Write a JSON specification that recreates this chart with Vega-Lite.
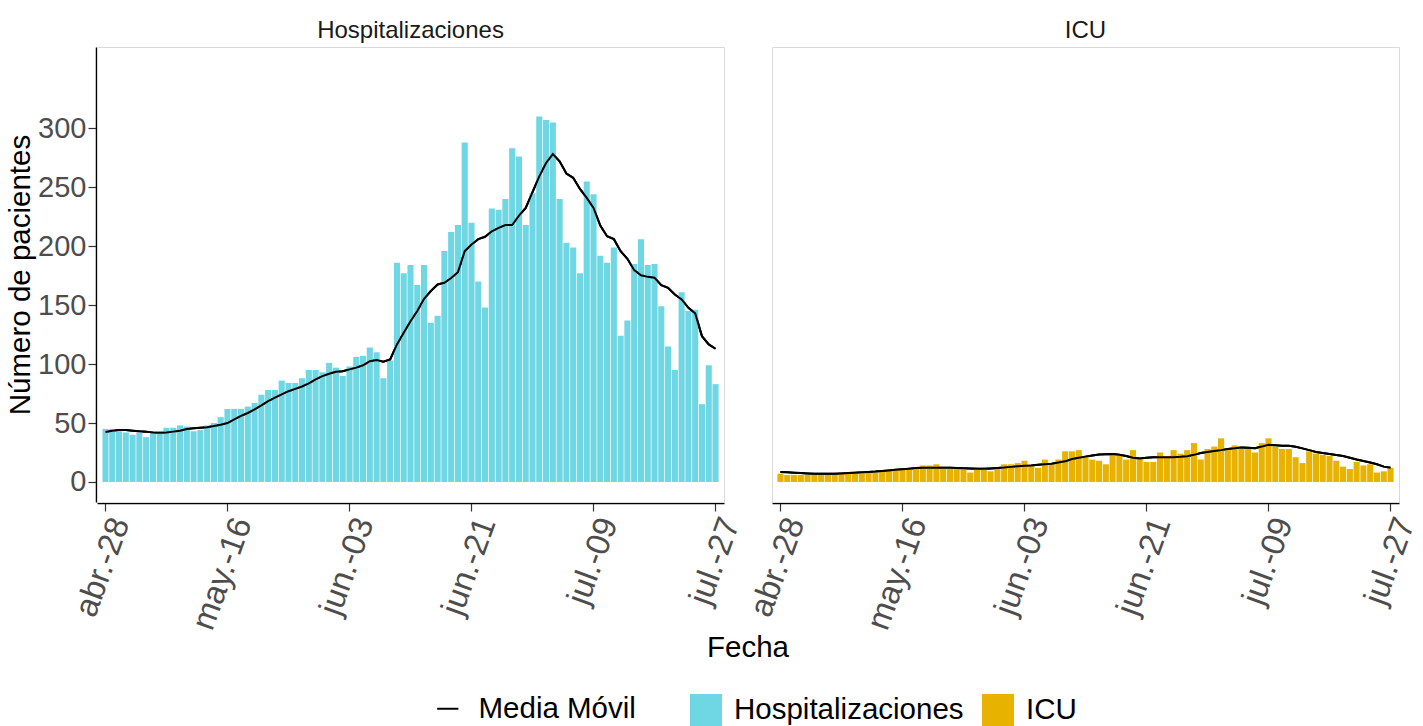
{
 "$schema": "https://vega.github.io/schema/vega-lite/v6.json",
 "padding": {"left": 5, "top": 19, "right": 20, "bottom": 0},
 "background": "white",
 "data": {"values": [
  {"fecha":"abr.-28","tipo":"Hospitalizaciones","pacientes":45,"media":42.4},
  {"fecha":"abr.-29","tipo":"Hospitalizaciones","pacientes":45,"media":43.5},
  {"fecha":"abr.-30","tipo":"Hospitalizaciones","pacientes":43,"media":44},
  {"fecha":"may.-01","tipo":"Hospitalizaciones","pacientes":42,"media":44},
  {"fecha":"may.-02","tipo":"Hospitalizaciones","pacientes":40,"media":43.5},
  {"fecha":"may.-03","tipo":"Hospitalizaciones","pacientes":42,"media":43},
  {"fecha":"may.-04","tipo":"Hospitalizaciones","pacientes":38,"media":42.7},
  {"fecha":"may.-05","tipo":"Hospitalizaciones","pacientes":43,"media":42},
  {"fecha":"may.-06","tipo":"Hospitalizaciones","pacientes":42,"media":41.8},
  {"fecha":"may.-07","tipo":"Hospitalizaciones","pacientes":46,"media":42},
  {"fecha":"may.-08","tipo":"Hospitalizaciones","pacientes":46,"media":42.7},
  {"fecha":"may.-09","tipo":"Hospitalizaciones","pacientes":48,"media":43.5},
  {"fecha":"may.-10","tipo":"Hospitalizaciones","pacientes":47,"media":45},
  {"fecha":"may.-11","tipo":"Hospitalizaciones","pacientes":43,"media":45.5},
  {"fecha":"may.-12","tipo":"Hospitalizaciones","pacientes":44,"media":46},
  {"fecha":"may.-13","tipo":"Hospitalizaciones","pacientes":48,"media":46.5},
  {"fecha":"may.-14","tipo":"Hospitalizaciones","pacientes":50,"media":47.5},
  {"fecha":"may.-15","tipo":"Hospitalizaciones","pacientes":55,"media":48.5},
  {"fecha":"may.-16","tipo":"Hospitalizaciones","pacientes":62,"media":50},
  {"fecha":"may.-17","tipo":"Hospitalizaciones","pacientes":62,"media":53},
  {"fecha":"may.-18","tipo":"Hospitalizaciones","pacientes":62,"media":56},
  {"fecha":"may.-19","tipo":"Hospitalizaciones","pacientes":64,"media":58.5},
  {"fecha":"may.-20","tipo":"Hospitalizaciones","pacientes":67,"media":61.6},
  {"fecha":"may.-21","tipo":"Hospitalizaciones","pacientes":74,"media":65},
  {"fecha":"may.-22","tipo":"Hospitalizaciones","pacientes":78,"media":68.6},
  {"fecha":"may.-23","tipo":"Hospitalizaciones","pacientes":78,"media":71.5},
  {"fecha":"may.-24","tipo":"Hospitalizaciones","pacientes":86,"media":74.3},
  {"fecha":"may.-25","tipo":"Hospitalizaciones","pacientes":84,"media":77},
  {"fecha":"may.-26","tipo":"Hospitalizaciones","pacientes":84,"media":79},
  {"fecha":"may.-27","tipo":"Hospitalizaciones","pacientes":88,"media":81},
  {"fecha":"may.-28","tipo":"Hospitalizaciones","pacientes":95,"media":83.6},
  {"fecha":"may.-29","tipo":"Hospitalizaciones","pacientes":95,"media":87},
  {"fecha":"may.-30","tipo":"Hospitalizaciones","pacientes":93,"media":89.8},
  {"fecha":"may.-31","tipo":"Hospitalizaciones","pacientes":101,"media":91.8},
  {"fecha":"jun.-01","tipo":"Hospitalizaciones","pacientes":97,"media":93.5},
  {"fecha":"jun.-02","tipo":"Hospitalizaciones","pacientes":90,"media":94},
  {"fecha":"jun.-03","tipo":"Hospitalizaciones","pacientes":98,"media":95.5},
  {"fecha":"jun.-04","tipo":"Hospitalizaciones","pacientes":106,"media":97},
  {"fecha":"jun.-05","tipo":"Hospitalizaciones","pacientes":107,"media":99},
  {"fecha":"jun.-06","tipo":"Hospitalizaciones","pacientes":114,"media":102.5},
  {"fecha":"jun.-07","tipo":"Hospitalizaciones","pacientes":110,"media":103.4},
  {"fecha":"jun.-08","tipo":"Hospitalizaciones","pacientes":88,"media":102},
  {"fecha":"jun.-09","tipo":"Hospitalizaciones","pacientes":103,"media":104},
  {"fecha":"jun.-10","tipo":"Hospitalizaciones","pacientes":186,"media":116.7},
  {"fecha":"jun.-11","tipo":"Hospitalizaciones","pacientes":177,"media":126.6},
  {"fecha":"jun.-12","tipo":"Hospitalizaciones","pacientes":184,"media":136.4},
  {"fecha":"jun.-13","tipo":"Hospitalizaciones","pacientes":167,"media":145},
  {"fecha":"jun.-14","tipo":"Hospitalizaciones","pacientes":184,"media":155.4},
  {"fecha":"jun.-15","tipo":"Hospitalizaciones","pacientes":135,"media":162},
  {"fecha":"jun.-16","tipo":"Hospitalizaciones","pacientes":141,"media":167.5},
  {"fecha":"jun.-17","tipo":"Hospitalizaciones","pacientes":196,"media":169},
  {"fecha":"jun.-18","tipo":"Hospitalizaciones","pacientes":212,"media":173},
  {"fecha":"jun.-19","tipo":"Hospitalizaciones","pacientes":218,"media":178},
  {"fecha":"jun.-20","tipo":"Hospitalizaciones","pacientes":288,"media":195.8},
  {"fecha":"jun.-21","tipo":"Hospitalizaciones","pacientes":220,"media":201.4},
  {"fecha":"jun.-22","tipo":"Hospitalizaciones","pacientes":170,"media":206},
  {"fecha":"jun.-23","tipo":"Hospitalizaciones","pacientes":148,"media":208},
  {"fecha":"jun.-24","tipo":"Hospitalizaciones","pacientes":232,"media":212.7},
  {"fecha":"jun.-25","tipo":"Hospitalizaciones","pacientes":231,"media":215.5},
  {"fecha":"jun.-26","tipo":"Hospitalizaciones","pacientes":240,"media":218},
  {"fecha":"jun.-27","tipo":"Hospitalizaciones","pacientes":283,"media":218},
  {"fecha":"jun.-28","tipo":"Hospitalizaciones","pacientes":276,"media":226},
  {"fecha":"jun.-29","tipo":"Hospitalizaciones","pacientes":218,"media":232.5},
  {"fecha":"jun.-30","tipo":"Hospitalizaciones","pacientes":245,"media":245.8},
  {"fecha":"jul.-01","tipo":"Hospitalizaciones","pacientes":310,"media":259.3},
  {"fecha":"jul.-02","tipo":"Hospitalizaciones","pacientes":307,"media":270.6},
  {"fecha":"jul.-03","tipo":"Hospitalizaciones","pacientes":305,"media":278.2},
  {"fecha":"jul.-04","tipo":"Hospitalizaciones","pacientes":240,"media":272},
  {"fecha":"jul.-05","tipo":"Hospitalizaciones","pacientes":203,"media":261.6},
  {"fecha":"jul.-06","tipo":"Hospitalizaciones","pacientes":199,"media":258},
  {"fecha":"jul.-07","tipo":"Hospitalizaciones","pacientes":177,"media":248.6},
  {"fecha":"jul.-08","tipo":"Hospitalizaciones","pacientes":255,"media":241},
  {"fecha":"jul.-09","tipo":"Hospitalizaciones","pacientes":244,"media":232.5},
  {"fecha":"jul.-10","tipo":"Hospitalizaciones","pacientes":192,"media":217.5},
  {"fecha":"jul.-11","tipo":"Hospitalizaciones","pacientes":186,"media":208.5},
  {"fecha":"jul.-12","tipo":"Hospitalizaciones","pacientes":199,"media":206},
  {"fecha":"jul.-13","tipo":"Hospitalizaciones","pacientes":124,"media":195.8},
  {"fecha":"jul.-14","tipo":"Hospitalizaciones","pacientes":137,"media":189.3},
  {"fecha":"jul.-15","tipo":"Hospitalizaciones","pacientes":185,"media":179.7},
  {"fecha":"jul.-16","tipo":"Hospitalizaciones","pacientes":206,"media":175.4},
  {"fecha":"jul.-17","tipo":"Hospitalizaciones","pacientes":184,"media":174},
  {"fecha":"jul.-18","tipo":"Hospitalizaciones","pacientes":185,"media":173.2},
  {"fecha":"jul.-19","tipo":"Hospitalizaciones","pacientes":149,"media":167},
  {"fecha":"jul.-20","tipo":"Hospitalizaciones","pacientes":115,"media":164.7},
  {"fecha":"jul.-21","tipo":"Hospitalizaciones","pacientes":95,"media":159},
  {"fecha":"jul.-22","tipo":"Hospitalizaciones","pacientes":161,"media":154.8},
  {"fecha":"jul.-23","tipo":"Hospitalizaciones","pacientes":145,"media":147.7},
  {"fecha":"jul.-24","tipo":"Hospitalizaciones","pacientes":146,"media":143},
  {"fecha":"jul.-25","tipo":"Hospitalizaciones","pacientes":66,"media":123.7},
  {"fecha":"jul.-26","tipo":"Hospitalizaciones","pacientes":99,"media":116.7},
  {"fecha":"jul.-27","tipo":"Hospitalizaciones","pacientes":83,"media":113},
  {"fecha":"abr.-28","tipo":"ICU","pacientes":7,"media":8.5},
  {"fecha":"abr.-29","tipo":"ICU","pacientes":6,"media":8.2},
  {"fecha":"abr.-30","tipo":"ICU","pacientes":6,"media":7.8},
  {"fecha":"may.-01","tipo":"ICU","pacientes":6,"media":7.5},
  {"fecha":"may.-02","tipo":"ICU","pacientes":6,"media":7.2},
  {"fecha":"may.-03","tipo":"ICU","pacientes":6,"media":7},
  {"fecha":"may.-04","tipo":"ICU","pacientes":6,"media":7},
  {"fecha":"may.-05","tipo":"ICU","pacientes":6,"media":7},
  {"fecha":"may.-06","tipo":"ICU","pacientes":6,"media":7},
  {"fecha":"may.-07","tipo":"ICU","pacientes":7,"media":7.2},
  {"fecha":"may.-08","tipo":"ICU","pacientes":8,"media":7.5},
  {"fecha":"may.-09","tipo":"ICU","pacientes":8,"media":7.8},
  {"fecha":"may.-10","tipo":"ICU","pacientes":9,"media":8.2},
  {"fecha":"may.-11","tipo":"ICU","pacientes":8,"media":8.5},
  {"fecha":"may.-12","tipo":"ICU","pacientes":8,"media":8.8},
  {"fecha":"may.-13","tipo":"ICU","pacientes":9,"media":9.3},
  {"fecha":"may.-14","tipo":"ICU","pacientes":10,"media":9.8},
  {"fecha":"may.-15","tipo":"ICU","pacientes":11,"media":10.3},
  {"fecha":"may.-16","tipo":"ICU","pacientes":11,"media":10.8},
  {"fecha":"may.-17","tipo":"ICU","pacientes":11,"media":11.3},
  {"fecha":"may.-18","tipo":"ICU","pacientes":12,"media":11.8},
  {"fecha":"may.-19","tipo":"ICU","pacientes":14,"media":12},
  {"fecha":"may.-20","tipo":"ICU","pacientes":14,"media":12},
  {"fecha":"may.-21","tipo":"ICU","pacientes":15,"media":12},
  {"fecha":"may.-22","tipo":"ICU","pacientes":12,"media":12},
  {"fecha":"may.-23","tipo":"ICU","pacientes":12,"media":12},
  {"fecha":"may.-24","tipo":"ICU","pacientes":12,"media":11.8},
  {"fecha":"may.-25","tipo":"ICU","pacientes":12,"media":11.6},
  {"fecha":"may.-26","tipo":"ICU","pacientes":8,"media":11.4},
  {"fecha":"may.-27","tipo":"ICU","pacientes":11,"media":11.3},
  {"fecha":"may.-28","tipo":"ICU","pacientes":11,"media":11.3},
  {"fecha":"may.-29","tipo":"ICU","pacientes":9,"media":11.5},
  {"fecha":"may.-30","tipo":"ICU","pacientes":11,"media":11.8},
  {"fecha":"may.-31","tipo":"ICU","pacientes":15,"media":12.2},
  {"fecha":"jun.-01","tipo":"ICU","pacientes":15,"media":12.8},
  {"fecha":"jun.-02","tipo":"ICU","pacientes":16,"media":13.3},
  {"fecha":"jun.-03","tipo":"ICU","pacientes":18,"media":13.8},
  {"fecha":"jun.-04","tipo":"ICU","pacientes":14,"media":14},
  {"fecha":"jun.-05","tipo":"ICU","pacientes":12,"media":14.5},
  {"fecha":"jun.-06","tipo":"ICU","pacientes":19,"media":15},
  {"fecha":"jun.-07","tipo":"ICU","pacientes":15,"media":15.5},
  {"fecha":"jun.-08","tipo":"ICU","pacientes":19,"media":16.5},
  {"fecha":"jun.-09","tipo":"ICU","pacientes":26,"media":17.5},
  {"fecha":"jun.-10","tipo":"ICU","pacientes":26,"media":19.5},
  {"fecha":"jun.-11","tipo":"ICU","pacientes":27,"media":20.5},
  {"fecha":"jun.-12","tipo":"ICU","pacientes":22,"media":21.5},
  {"fecha":"jun.-13","tipo":"ICU","pacientes":19,"media":22.5},
  {"fecha":"jun.-14","tipo":"ICU","pacientes":18,"media":23.2},
  {"fecha":"jun.-15","tipo":"ICU","pacientes":15,"media":23.5},
  {"fecha":"jun.-16","tipo":"ICU","pacientes":23,"media":23.7},
  {"fecha":"jun.-17","tipo":"ICU","pacientes":23,"media":23},
  {"fecha":"jun.-18","tipo":"ICU","pacientes":19,"media":22},
  {"fecha":"jun.-19","tipo":"ICU","pacientes":27,"media":20.5},
  {"fecha":"jun.-20","tipo":"ICU","pacientes":20,"media":20},
  {"fecha":"jun.-21","tipo":"ICU","pacientes":17,"media":20.5},
  {"fecha":"jun.-22","tipo":"ICU","pacientes":17,"media":21},
  {"fecha":"jun.-23","tipo":"ICU","pacientes":25,"media":21},
  {"fecha":"jun.-24","tipo":"ICU","pacientes":22,"media":21},
  {"fecha":"jun.-25","tipo":"ICU","pacientes":27,"media":21},
  {"fecha":"jun.-26","tipo":"ICU","pacientes":24,"media":21.3},
  {"fecha":"jun.-27","tipo":"ICU","pacientes":27,"media":21.8},
  {"fecha":"jun.-28","tipo":"ICU","pacientes":33,"media":23},
  {"fecha":"jun.-29","tipo":"ICU","pacientes":19,"media":24.5},
  {"fecha":"jun.-30","tipo":"ICU","pacientes":28,"media":25.5},
  {"fecha":"jul.-01","tipo":"ICU","pacientes":30,"media":26.3},
  {"fecha":"jul.-02","tipo":"ICU","pacientes":37,"media":27},
  {"fecha":"jul.-03","tipo":"ICU","pacientes":27,"media":28},
  {"fecha":"jul.-04","tipo":"ICU","pacientes":31,"media":28.5},
  {"fecha":"jul.-05","tipo":"ICU","pacientes":29,"media":29.2},
  {"fecha":"jul.-06","tipo":"ICU","pacientes":28,"media":29},
  {"fecha":"jul.-07","tipo":"ICU","pacientes":25,"media":28.7},
  {"fecha":"jul.-08","tipo":"ICU","pacientes":33,"media":30},
  {"fecha":"jul.-09","tipo":"ICU","pacientes":37,"media":31.5},
  {"fecha":"jul.-10","tipo":"ICU","pacientes":30,"media":31.2},
  {"fecha":"jul.-11","tipo":"ICU","pacientes":28,"media":30.8},
  {"fecha":"jul.-12","tipo":"ICU","pacientes":28,"media":30.8},
  {"fecha":"jul.-13","tipo":"ICU","pacientes":21,"media":29.8},
  {"fecha":"jul.-14","tipo":"ICU","pacientes":16,"media":28.5},
  {"fecha":"jul.-15","tipo":"ICU","pacientes":26,"media":27},
  {"fecha":"jul.-16","tipo":"ICU","pacientes":24,"media":25.5},
  {"fecha":"jul.-17","tipo":"ICU","pacientes":23,"media":24.5},
  {"fecha":"jul.-18","tipo":"ICU","pacientes":22,"media":23.8},
  {"fecha":"jul.-19","tipo":"ICU","pacientes":18,"media":22.8},
  {"fecha":"jul.-20","tipo":"ICU","pacientes":13,"media":22},
  {"fecha":"jul.-21","tipo":"ICU","pacientes":11,"media":20.5},
  {"fecha":"jul.-22","tipo":"ICU","pacientes":17,"media":19},
  {"fecha":"jul.-23","tipo":"ICU","pacientes":14,"media":17.8},
  {"fecha":"jul.-24","tipo":"ICU","pacientes":15,"media":16.5},
  {"fecha":"jul.-25","tipo":"ICU","pacientes":8,"media":15},
  {"fecha":"jul.-26","tipo":"ICU","pacientes":9,"media":13},
  {"fecha":"jul.-27","tipo":"ICU","pacientes":12,"media":12}
 ]},
 "facet": {
  "column": {
   "field": "tipo", "type": "nominal", "sort": ["Hospitalizaciones", "ICU"],
   "header": {
    "title": "Fecha", "titleOrient": "bottom", "titleFont": "Liberation Sans",
    "titleFontSize": 29.5, "titleFontWeight": "normal", "titleColor": "black", "titlePadding": -11,
    "labelOrient": "top", "labelFont": "Liberation Sans", "labelFontSize": 24,
    "labelColor": "#1a1a1a", "labelPadding": 3
   }
  }
 },
 "spacing": {"column": 46},
 "spec": {
  "width": 627,
  "height": 455,
  "layer": [
   {
    "mark": {"type": "line", "strokeWidth": 2},
    "encoding": {
     "x": {"field": "fecha", "type": "ordinal", "sort": null},
     "y": {"field": "media", "type": "quantitative"},
     "color": {"datum": "Media Móvil", "scale": {"range": ["black"]},
       "legend": {"title": null, "symbolSize": 450, "symbolStrokeWidth": 2, "labelOffset": 16,
         "orient": "none", "legendX": 336, "legendY": 647}}
    }
   },
   {
    "mark": {"type": "bar"},
    "encoding": {
     "x": {"field": "fecha", "type": "ordinal", "sort": null,
       "scale": {"paddingInner": 0.1, "paddingOuter": 0.8},
       "axis": {"title": null, "values": ["abr.-28","may.-16","jun.-03","jun.-21","jul.-09","jul.-27"],
         "labelAngle": -70, "labelBaseline": "top", "labelFontSize": 33, "labelColor": "#4d4d4d", "labelOverlap": false,
         "labelDy": 9,
         "tickSize": 8, "tickColor": "#333333", "tickWidth": 1.2, "domainColor": "black", "domainWidth": 1.5,
         "labelPadding": 2, "grid": false}},
     "y": {"field": "pacientes", "type": "quantitative",
       "scale": {"domain": [-17, 369], "nice": false, "zero": false},
       "axis": {"title": "Número de pacientes", "values": [0, 50, 100, 150, 200, 250, 300],
         "titleFontSize": 29.5, "titleFontWeight": "normal", "titleColor": "black", "titlePadding": 2,
         "labelFontSize": 29, "labelColor": "#4d4d4d", "tickSize": 8, "tickColor": "#333333", "tickWidth": 1.2,
         "domainColor": "black", "domainWidth": 1.5, "labelPadding": 2, "grid": false}},
     "y2": {"datum": 0},
     "fill": {"field": "tipo", "type": "nominal",
       "scale": {"domain": ["Hospitalizaciones", "ICU"], "range": ["#6fd7e3", "#e7b200"]},
       "legend": {"title": null, "symbolType": "square", "symbolSize": 1024, "symbolStrokeWidth": 0, "labelOffset": 12,
         "orient": "none", "legendX": 593, "legendY": 647}}
    }
   },
   {
    "mark": {"type": "line", "strokeWidth": 2},
    "encoding": {
     "x": {"field": "fecha", "type": "ordinal", "sort": null},
     "y": {"field": "media", "type": "quantitative"},
     "color": {"datum": "Media Móvil"}
    }
   }
  ]
 },
 "config": {
  "font": "Liberation Sans",
  "view": {"stroke": "#d9d9d9", "strokeWidth": 1},
  "legend": {"direction": "horizontal", "labelFontSize": 29.5, "labelColor": "black",
    "labelFont": "Liberation Sans", "columnPadding": 18, "labelLimit": 500}
 }
}
